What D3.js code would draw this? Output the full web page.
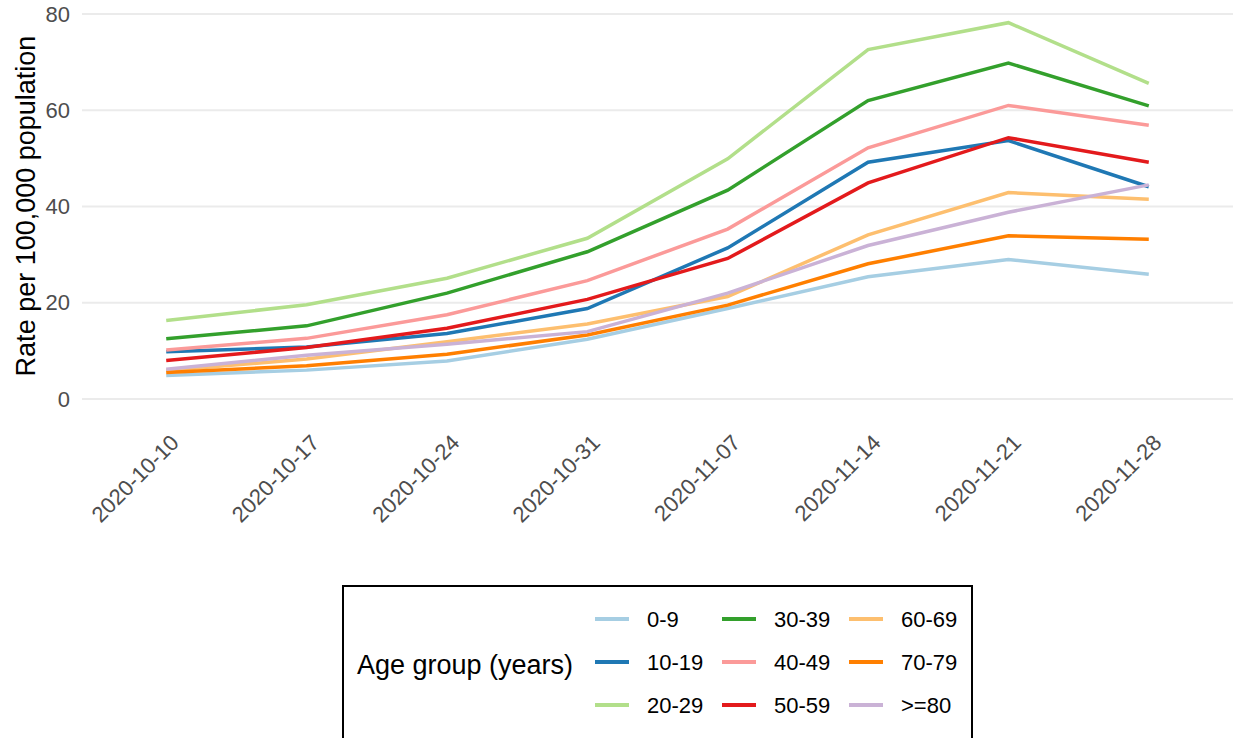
<!DOCTYPE html>
<html>
<head>
<meta charset="utf-8">
<script src="https://cdn.jsdelivr.net/npm/d3@7"></script>
<style>
  body { margin: 0; background: #fff; }
  text { font-family: "Liberation Sans", Arial, sans-serif; }
</style>
</head>
<body>
<svg width="1236" height="738"></svg>
<script>
//weeks on the x axis
var weeks = ["2020-10-10", "2020-10-17", "2020-10-24", "2020-10-31",
             "2020-11-07", "2020-11-14", "2020-11-21", "2020-11-28"];

//age groups and their colours
var groups = ["0-9", "10-19", "20-29", "30-39", "40-49", "50-59", "60-69", "70-79", ">=80"];
var groupColors = ["#a6cee3", "#1f78b4", "#b2df8a", "#33a02c", "#fb9a99",
                   "#e31a1c", "#fdbf6f", "#ff7f00", "#cab2d6"];

//rates per 100,000, one array per age group
var rate0_9   = [4.9, 6.0, 7.9, 12.4, 18.8, 25.4, 29.0, 25.9];
var rate10_19 = [9.8, 10.8, 13.6, 18.8, 31.4, 49.2, 53.7, 44.1];
var rate20_29 = [16.3, 19.6, 25.1, 33.4, 49.9, 72.6, 78.2, 65.6];
var rate30_39 = [12.5, 15.2, 22.0, 30.6, 43.4, 62.0, 69.8, 60.9];
var rate40_49 = [10.2, 12.6, 17.5, 24.6, 35.3, 52.2, 61.0, 56.9];
var rate50_59 = [8.0, 10.7, 14.7, 20.7, 29.2, 44.9, 54.3, 49.2];
var rate60_69 = [5.9, 8.3, 11.9, 15.6, 21.3, 34.1, 42.9, 41.5];
var rate70_79 = [5.5, 6.9, 9.3, 13.3, 19.5, 28.1, 33.9, 33.2];
var rate80    = [6.2, 9.1, 11.4, 14.0, 22.0, 31.9, 38.8, 44.5];

var yTicks = [0, 20, 40, 60, 80];

var series = [rate0_9, rate10_19, rate20_29, rate30_39, rate40_49,
              rate50_59, rate60_69, rate70_79, rate80].map(function (vals, i) {
    return { name: groups[i], color: groupColors[i], values: vals };
});

var svg = d3.select("svg");

//scales
var x = d3.scalePoint().domain(weeks).range([82, 1233]).padding(0.6);
var y = d3.scaleLinear().domain([0, 80]).range([399, 14]);

//gridlines
svg.append("g")
    .selectAll("line")
    .data(yTicks)
    .enter()
    .append("line")
    .attr("x1", 82)
    .attr("x2", 1233)
    .attr("y1", function (d) { return y(d); })
    .attr("y2", function (d) { return y(d); })
    .attr("stroke", "#ebebeb")
    .attr("stroke-width", 2);

//y axis labels
var yAxis = svg.append("g")
    .attr("transform", "translate(78,0)")
    .call(d3.axisLeft(y).tickValues(yTicks).tickSize(0).tickPadding(8));
yAxis.select(".domain").remove();
yAxis.selectAll("text")
    .attr("fill", "#4d4d4d")
    .style("font-size", "22px")
    .style("font-family", "Liberation Sans, Arial, sans-serif");

//x axis labels, rotated
svg.append("g")
    .selectAll("text")
    .data(weeks)
    .enter()
    .append("text")
    .attr("transform", function (d) { return "translate(" + (x(d) + 3) + ",433) rotate(-45)"; })
    .attr("text-anchor", "end")
    .attr("dy", "0.71em")
    .attr("fill", "#4d4d4d")
    .style("font-size", "22px")
    .text(function (d) { return d; });

//y axis title
svg.append("text")
    .attr("transform", "translate(35,206) rotate(-90)")
    .attr("text-anchor", "middle")
    .attr("fill", "#000")
    .style("font-size", "27px")
    .text("Rate per 100,000 population");

//lines
var line = d3.line()
    .x(function (d, i) { return x(weeks[i]); })
    .y(function (d) { return y(d); });

svg.append("g")
    .selectAll("path")
    .data(series)
    .enter()
    .append("path")
    .attr("d", function (d) { return line(d.values); })
    .attr("fill", "none")
    .attr("stroke", function (d) { return d.color; })
    .attr("stroke-width", 3.5);

//legend box
var legend = svg.append("g");
legend.append("rect")
    .attr("x", 343)
    .attr("y", 586)
    .attr("width", 629)
    .attr("height", 200)
    .attr("fill", "#fff")
    .attr("stroke", "#000")
    .attr("stroke-width", 2);

legend.append("text")
    .attr("x", 357)
    .attr("y", 665)
    .attr("dy", "0.35em")
    .style("font-size", "27px")
    .text("Age group (years)");

var colX = [595, 722, 849];
var rowY = [619, 662, 705];

var item = legend.selectAll(".item")
    .data(series)
    .enter()
    .append("g")
    .attr("class", "item")
    .attr("transform", function (d, i) {
        return "translate(" + colX[Math.floor(i / 3)] + "," + rowY[i % 3] + ")";
    });

item.append("line")
    .attr("x1", 0)
    .attr("x2", 34)
    .attr("stroke", function (d) { return d.color; })
    .attr("stroke-width", 4);

item.append("text")
    .attr("x", 52)
    .attr("dy", "0.35em")
    .style("font-size", "22px")
    .text(function (d) { return d.name; });
</script>
</body>
</html>
